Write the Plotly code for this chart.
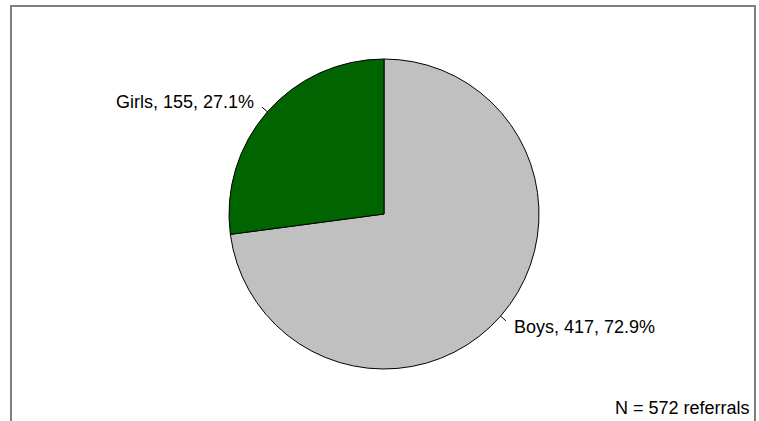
import math
import plotly.graph_objects as go

labels = ["Boys", "Girls"]
values = [417, 155]
colors = ["#c0c0c0", "#006400"]
note_label = "referrals"

W, H = 759, 421
cx, cy, r = 384, 214, 155  # pie centre and radius in pixels
FONT = dict(family="Liberation Sans, Arial, sans-serif", size=18, color="#000000")

def px(x):
    return x / W

def py(y):
    return 1 - y / H

fig = go.Figure(go.Pie(
    labels=labels, values=values, sort=False, direction="clockwise",
    rotation=0, marker=dict(colors=colors, line=dict(color="#000000", width=1)),
    textinfo="none", hoverinfo="label+value+percent", showlegend=False,
    domain=dict(x=[px(cx - r), px(cx + r)], y=[py(cy + r), py(cy - r)]),
))

total = sum(values)
shapes = []
annotations = []
cum = 0
for lab, val in zip(labels, values):
    frac_mid = (cum + val / 2) / total
    cum += val
    ang = 2 * math.pi * frac_mid  # clockwise from 12 o'clock
    sx, sy = math.sin(ang), -math.cos(ang)  # unit vector in pixel coords
    x0, y0 = cx + r * sx, cy + r * sy
    x1, y1 = cx + (r + 7) * sx, cy + (r + 7) * sy
    shapes.append(dict(type="line", xref="paper", yref="paper",
                       x0=px(x0), y0=py(y0), x1=px(x1), y1=py(y1),
                       line=dict(color="#000000", width=1)))
    pct = 100 * val / total
    left = sx > 0
    tx = x1 + (6 if left else -6)
    ty = y1 + (6 if sy > 0 else -5)
    annotations.append(dict(
        xref="paper", yref="paper", x=px(tx), y=py(ty),
        xanchor="left" if left else "right", yanchor="middle",
        text=f"{lab}, {val}, {pct:.1f}%", showarrow=False, font=FONT,
    ))

annotations.append(dict(
    xref="paper", yref="paper", x=px(752), y=py(408), xanchor="right", yanchor="middle",
    text=f"N = {total} {note_label}", showarrow=False, font=FONT,
))

shapes.append(dict(type="rect", xref="paper", yref="paper",
                   x0=px(11), x1=px(755), y0=-0.2, y1=py(6),
                   line=dict(color="#7f7f7f", width=2), fillcolor="rgba(0,0,0,0)",
                   layer="below"))

fig.update_layout(
    width=W, height=H, margin=dict(l=0, r=0, t=0, b=0),
    paper_bgcolor="#ffffff", plot_bgcolor="#ffffff",
    shapes=shapes, annotations=annotations,
)

fig.write_html("out.html", config={"displayModeBar": False},
               post_script="document.body.style.margin='0';document.body.style.overflow='hidden';")
